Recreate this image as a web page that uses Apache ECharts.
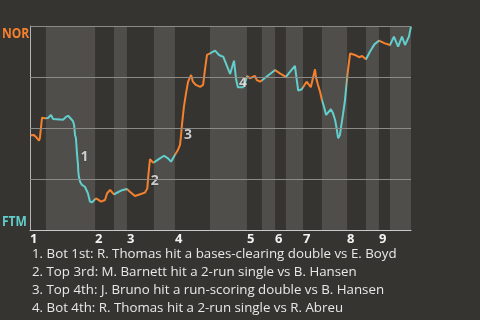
<!DOCTYPE html>
<html><head><meta charset="utf-8">
<script src="https://cdn.jsdelivr.net/npm/echarts@6/dist/echarts.min.js"></script>
<style>html,body{margin:0;padding:0;background:#363430;}#c{width:480px;height:320px;}</style>
</head><body><div id="c"></div>
<script>
// win probability for NOR (%), x = event index
const events = [0.3,1.3,2.0,3.0,3.3,4.0,4.3,5.0,6.0,7.0,7.7,8.3,11.0,12.0,12.7,13.7,14.3,14.7,15.0,15.3,15.7,16.0,16.1,16.3,16.7,17.3,18.3,19.3,20.0,20.7,21.3,22.0,22.7,23.7,24.3,25.0,25.7,26.7,27.3,28.0,29.3,30.7,32.3,33.3,35.0,36.7,38.3,39.1,39.4,40.0,41.0,41.7,43.3,44.7,46.0,47.0,48.3,49.3,50.0,50.3,50.7,51.3,52.0,52.7,53.7,54.3,55.3,56.7,57.7,58.3,59.0,59.7,60.3,61.7,63.0,63.7,64.4,66.7,68.0,68.7,69.3,71.1,72.0,72.4,73.3,75.0,75.6,76.7,77.3,81.7,83.3,85.3,88.3,89.4,90.6,92.2,93.6,95.0,95.3,96.0,96.7,97.3,98.0,98.7,99.3,100.3,101.0,101.7,102.3,102.7,103.3,103.7,104.3,105.0,105.7,106.0,106.7,107.3,108.3,109.7,110.7,111.3,112.0,113.3,114.8,116.3,118.3,120.0,121.3,122.7,124.0,125.0,126.3,127.0];
const winProb = [46.4,46.6,45.6,43.8,45.1,55.0,55.5,54.8,54.9,56.4,54.4,54.1,54.1,55.4,56.0,54.4,53.4,51.5,46.6,45.1,36.8,31.9,28.6,26.1,23.7,22.1,21.2,18.0,13.9,13.6,14.2,15.5,14.9,13.9,13.1,14.7,18.0,19.6,18.8,17.5,18.5,19.5,20.1,18.8,16.7,17.5,18.3,20.4,26.1,34.7,33.0,33.5,35.1,36.4,35.1,33.5,36.8,39.2,41.7,45.7,52.3,60.4,67.0,72.7,76.0,72.7,71.1,70.2,71.1,78.4,85.8,86.3,85.8,87.9,85.8,85.3,85.0,76.5,83.0,73.9,70.0,70.0,73.5,75.5,74.4,75.5,73.5,72.7,71.9,78.4,76.8,75.1,80.5,68.3,69.0,72.7,70.0,78.8,75.1,71.1,67.8,63.7,60.4,56.4,57.2,59.2,57.2,53.9,49.0,45.0,46.6,50.6,56.4,63.7,74.4,78.4,86.6,87.3,85.8,84.7,85.3,85.0,83.7,87.4,91.0,92.8,91.5,90.7,94.8,89.9,94.8,90.7,94.8,99.7];
// half-inning boundaries on the event axis (top1, bot1, top2, ... bot9, end)
const halfStarts = [0,5.3,21.7,28,32.3,41.3,48.3,60,72.3,77.3,81.7,85.3,91,97.3,105.7,112,116.3,120,127];
const innings = ['1','2','3','4','5','6','7','8','9'];
const teams = ['NOR','FTM'];
const gridValues = [25,50,75,100];
const annotations = [[16.0,36,'1','right'],[39.4,24,'2','right'],[50.5,46.5,'3','right'],[71.0,72,'4','inside']];
const notes = [
 '1. Bot 1st: R. Thomas hit a bases-clearing double vs E. Boyd',
 '2. Top 3rd: M. Barnett hit a 2-run single vs B. Hansen',
 '3. Top 4th: J. Bruno hit a run-scoring double vs B. Hansen',
 '4. Bot 4th: R. Thomas hit a 2-run single vs R. Abreu'
];
const ORANGE = '#f5812f', CYAN = '#62cecb', FONT = 'Open Sans';

const lineData = events.map((x,i)=>[x, winProb[i]]);
const pieces = [], bands = [], topStarts = [];
for (let i=0;i<halfStarts.length-1;i++){
  const top = i%2===0;
  pieces.push({gte: halfStarts[i], lt: halfStarts[i+1] + (i===halfStarts.length-2?1:0), color: top?ORANGE:CYAN});
  if (top) topStarts.push(halfStarts[i]);
  else bands.push([{xAxis: halfStarts[i]},{xAxis: halfStarts[i+1]}]);
}
const chart = echarts.init(document.getElementById('c'), null, {renderer:'canvas'});
chart.setOption({
  backgroundColor:'#363430',
  animation:false,
  textStyle:{fontFamily:FONT},
  grid:{left:30,right:69,top:26,bottom:90},
  xAxis:{type:'value',min:0,max:halfStarts[halfStarts.length-1],
    axisLine:{show:true,lineStyle:{color:'#c9c9c9',width:1}},
    axisTick:{show:false},splitLine:{show:false},
    axisLabel:{customValues:topStarts,formatter:(v)=>innings[topStarts.indexOf(v)]||'',
      align:'left',margin:3,color:'#f2f2f2',fontWeight:'bold',fontSize:13,fontFamily:FONT}},
  yAxis:{type:'value',min:0,max:100,interval:25,
    axisLine:{show:true,lineStyle:{color:'#b5b5b5'}},axisTick:{show:false},axisLabel:{show:false},
    splitLine:{show:false}},
  visualMap:{show:false,type:'piecewise',dimension:0,seriesIndex:2,pieces:pieces},
  series:[
    {type:'line',data:[],z:1,silent:true,
      markArea:{silent:true,itemStyle:{color:'#504e4b'},data:bands}},
    {type:'line',data:[],z:2,silent:true,
      markLine:{silent:true,symbol:'none',label:{show:false},
        lineStyle:{color:'#8c8a87',width:1,type:'solid'},data:gridValues.map(v=>({yAxis:v}))}},
    {type:'line',data:lineData,showSymbol:false,lineStyle:{width:2},z:3},
    {type:'scatter',symbolSize:1,itemStyle:{color:'rgba(0,0,0,0)'},z:4,
      data:annotations.map(a=>({value:[a[0],a[1]],label:{show:true,formatter:a[2],position:a[3],distance:2,
        color:'#f0f0f0',fontWeight:'bold',fontSize:14,fontFamily:FONT,textBorderColor:'rgba(0,0,0,0.3)',textBorderWidth:1}}))}
  ],
  graphic:[
    {type:'text',x:2,y:26,scaleX:0.8,style:{text:teams[0],fill:ORANGE,font:'bold 15px '+FONT}},
    {type:'text',x:2,y:214,scaleX:0.8,style:{text:teams[1],fill:CYAN,font:'bold 15px '+FONT}},
    ...notes.map((t,i)=>({type:'text',left:32,top:248+i*18,style:{text:t,fill:'#e8e8e8',font:'13.3px '+FONT}}))
  ]
});
</script></body></html>
